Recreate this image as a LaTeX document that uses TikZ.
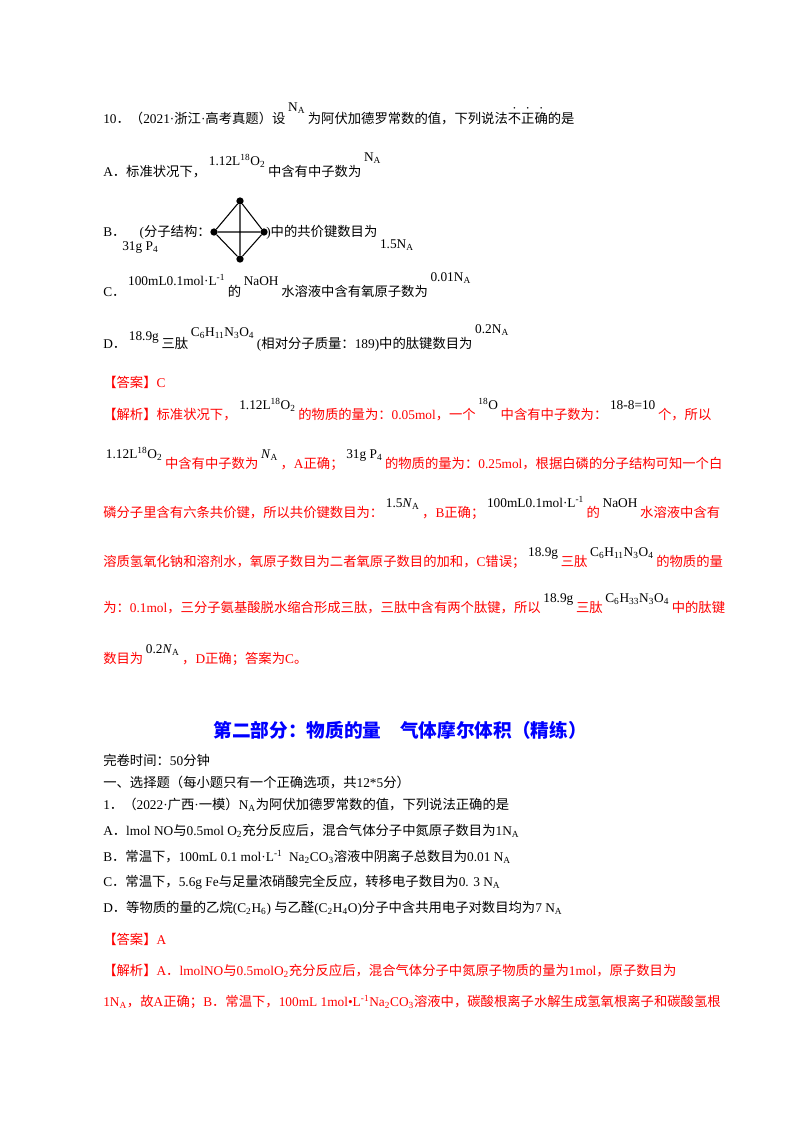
\documentclass[tikz,border=0pt]{standalone}
\usepackage{fontspec}
\setmainfont{Liberation Serif}
\newfontfamily\cjk{Noto Sans CJK SC}
\XeTeXinterchartokenstate=1
\newXeTeXintercharclass\cjkc
\newcount\cc
\cc="3000 \loop \XeTeXcharclass\cc=\cjkc \ifnum\cc<"303F \advance\cc 1 \repeat
\cc="4E00 \loop \XeTeXcharclass\cc=\cjkc \ifnum\cc<"9FFF \advance\cc 1 \repeat
\cc="FF00 \loop \XeTeXcharclass\cc=\cjkc \ifnum\cc<"FFEF \advance\cc 1 \repeat
\XeTeXinterchartoks 0 \cjkc = {\begingroup\cjk}
\XeTeXinterchartoks 4095 \cjkc = {\begingroup\cjk}
\XeTeXinterchartoks \cjkc 0 = {\endgroup}
\XeTeXinterchartoks \cjkc 4095 = {\endgroup}
\newcommand\R[2][7pt]{\hspace{2pt}\raisebox{#1}{\color{black}#2}\hspace{2pt}}
\newcommand\ed[1]{\leavevmode\rlap{\hbox to 1em{\hss\raisebox{0.95em}{\fontsize{5pt}{5pt}\selectfont •}\hss}}#1}
\newcommand\NA{N\textsubscript{A}}
\newcommand\iNA{\textit{N}\textsubscript{A}}
\begin{document}
\begin{tikzpicture}[x=0.75pt,y=-0.75pt,
  txt/.style={anchor=base west,inner sep=0pt,font=\fontsize{10pt}{12pt}\selectfont},
  ans/.style={txt,text=red},
  dot/.style={circle,fill=black,inner sep=0pt,minimum size=5.5pt},
  bond/.style={line width=0.8pt}]
\useasboundingbox (0,0) rectangle (800,1132);
\fill[white] (0,0) rectangle (800,1132);
% question 10
\node[txt] (q10) at (103,123) {10．（2021·浙江·高考真题）设\R[9pt]{\NA}为阿伏加德罗常数的值，下列说法\ed{不}\ed{正}\ed{确}的是};
\node[txt] (qa) at (103,176) {A．标准状况下，\R[8pt]{1.12L\textsuperscript{18}O\textsubscript{2}}中含有中子数为\R[11pt]{\NA}};
\node[txt] (qb0) at (103,236) {B．};
\node[txt] (qbp) at (122,250) {31g P\textsubscript{4}};
\node[txt,anchor=base east] (qb1) at (211,236) {(分子结构：};
\node[dot] (pl) at (214,232) {};
\node[dot] (pt) at (240,201) {};
\node[dot] (pr) at (264,232) {};
\node[dot] (pb) at (240,259) {};
\draw[bond] (pl)--(pt)--(pr)--(pb)--(pl)--(pr) (pt)--(pb);
\node[txt] (qb2) at (266,236) {)中的共价键数目为\R[-9pt]{1.5\NA}};
\node[txt] (qc) at (103,296) {C．\R[8pt]{100mL0.1mol·L\textsuperscript{-1}}的\R[8pt]{NaOH}水溶液中含有氧原子数为\R[11pt]{0.01\NA}};
\node[txt] (qd) at (103,348) {D．\R[6pt]{18.9g}三肽\R[9pt]{C\textsubscript{6}H\textsubscript{11}N\textsubscript{3}O\textsubscript{4}}(相对分子质量：189)中的肽键数目为\R[11pt]{0.2\NA}};
\node[ans] (aa) at (103,387) {【答案】C};
\node[ans] (j1) at (103,419) {【解析】标准状况下，\R{1.12L\textsuperscript{18}O\textsubscript{2}}的物质的量为：0.05mol，一个\R{\textsuperscript{18}O}中含有中子数为：\R{18-8=10}个，所以};
\node[ans] (j2) at (103,468) {\R{1.12L\textsuperscript{18}O\textsubscript{2}}中含有中子数为\R{\iNA}，A正确；\R{31g P\textsubscript{4}}的物质的量为：0.25mol，根据白磷的分子结构可知一个白};
\node[ans] (j3) at (103,517) {磷分子里含有六条共价键，所以共价键数目为：\R{1.5\iNA}，B正确；\R{100mL0.1mol·L\textsuperscript{-1}}的\R{NaOH}水溶液中含有};
\node[ans] (j4) at (103,566) {溶质氢氧化钠和溶剂水，氧原子数目为二者氧原子数目的加和，C错误；\R{18.9g}三肽\R{C\textsubscript{6}H\textsubscript{11}N\textsubscript{3}O\textsubscript{4}}的物质的量};
\node[ans] (j5) at (103,612) {为：0.1mol，三分子氨基酸脱水缩合形成三肽，三肽中含有两个肽键，所以\R{18.9g}三肽\R{C\textsubscript{6}H\textsubscript{33}N\textsubscript{3}O\textsubscript{4}}中的肽键};
\node[ans] (j6) at (103,663) {数目为\R{0.2\iNA}，D正确；答案为C。};
% part two
\node[anchor=base,inner sep=0pt,text={rgb,255:red,0;green,0;blue,255},font=\fontsize{14pt}{16pt}\selectfont\bfseries] (title) at (400,737) {第二部分：物质的量\hspace{1em}气体摩尔体积（精练）};
\node[txt] (t1) at (103,765) {完卷时间：50分钟};
\node[txt] (t2) at (103,787) {一、选择题（每小题只有一个正确选项，共12*5分）};
\node[txt] (t3) at (103,809) {1．（2022·广西·一模）N\textsubscript{A}为阿伏加德罗常数的值，下列说法正确的是};
\node[txt] (oa) at (103,835) {A．lmol NO与0.5mol O\textsubscript{2}充分反应后，混合气体分子中氮原子数目为1N\textsubscript{A}};
\node[txt] (ob) at (103,861) {B．常温下，100mL 0.1 mol·L\textsuperscript{-1}\ \ Na\textsubscript{2}CO\textsubscript{3}溶液中阴离子总数目为0.01 N\textsubscript{A}};
\node[txt] (oc) at (103,886) {C．常温下，5.6g Fe与足量浓硝酸完全反应，转移电子数目为0. 3 N\textsubscript{A}};
\node[txt] (od) at (103,912) {D．等物质的量的乙烷(C\textsubscript{2}H\textsubscript{6}) 与乙醛(C\textsubscript{2}H\textsubscript{4}O)分子中含共用电子对数目均为7 N\textsubscript{A}};
\node[ans] (ab) at (103,944) {【答案】A};
\node[ans] (k1) at (103,975) {【解析】A．lmolNO与0.5molO\textsubscript{2}充分反应后，混合气体分子中氮原子物质的量为1mol，原子数目为};
\node[ans] (k2) at (103,1006) {1N\textsubscript{A}，故A正确；B．常温下，100mL 1mol•L\textsuperscript{-1}Na\textsubscript{2}CO\textsubscript{3}溶液中，碳酸根离子水解生成氢氧根离子和碳酸氢根};
\end{tikzpicture}
\end{document}
